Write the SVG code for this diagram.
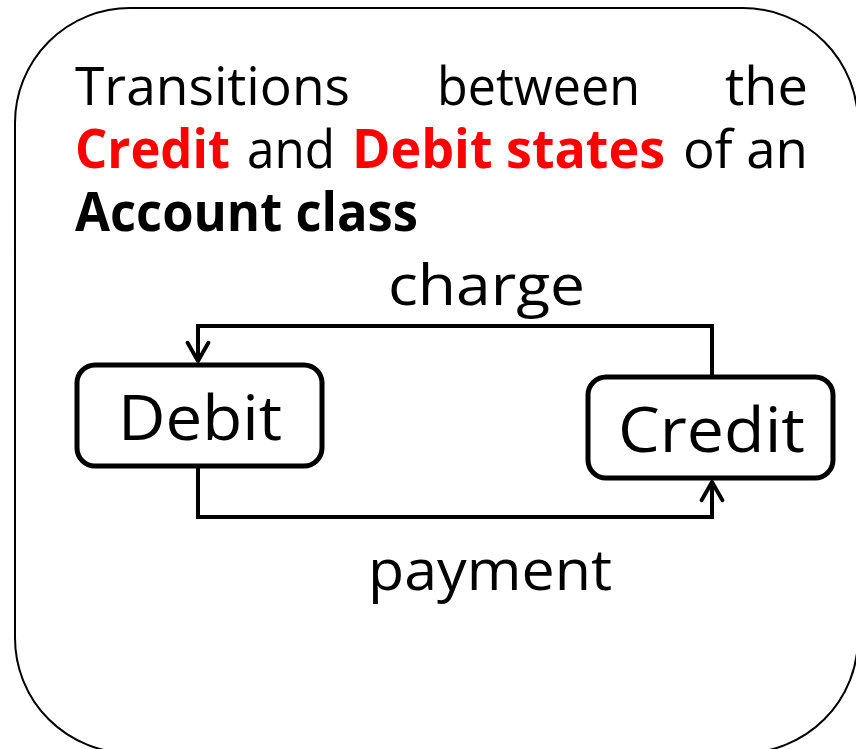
<svg xmlns="http://www.w3.org/2000/svg" width="856" height="749" viewBox="0 0 856 749">
<defs>
<style>
.t{font-family:"Open Sans","DejaVu Sans",sans-serif;fill:#000}
.h{font-size:53px}
.r{fill:#ff0000;font-weight:bold}
.b{font-weight:bold}
.node{fill:#fff;stroke:#000;stroke-width:5}
.lbl{font-size:63px}
.el{font-size:56px}
.conn{fill:none;stroke:#000;stroke-width:4}
</style>
<marker id="arr" viewBox="0 0 20 20" refX="18" refY="10" markerWidth="26" markerHeight="26" markerUnits="userSpaceOnUse" orient="auto">
<path d="M4 2 L18 10 L4 18" fill="none" stroke="#000" stroke-width="3" stroke-linecap="round" stroke-linejoin="round"/>
</marker>
</defs>
<rect x="15" y="8" width="843" height="745" rx="115" ry="115" fill="#fff" stroke="#000" stroke-width="2"/>
<g id="title" class="t h">
<text x="75" y="105" textLength="275" lengthAdjust="spacingAndGlyphs">Transitions</text>
<text x="437" y="105" textLength="203" lengthAdjust="spacingAndGlyphs">between</text>
<text x="725" y="105" textLength="83" lengthAdjust="spacingAndGlyphs">the</text>
<text x="75" y="168" class="r" textLength="155" lengthAdjust="spacingAndGlyphs">Credit</text>
<text x="247" y="168" textLength="88" lengthAdjust="spacingAndGlyphs">and</text>
<text x="352" y="168" class="r" textLength="313" lengthAdjust="spacingAndGlyphs">Debit states</text>
<text x="683" y="168" textLength="125" lengthAdjust="spacingAndGlyphs">of an</text>
<text x="75" y="231" class="b" textLength="343" lengthAdjust="spacingAndGlyphs">Account class</text>
</g>
<g id="connectors">
<path class="conn" d="M712 377 V326 H198 V361" marker-end="url(#arr)"/>
<path class="conn" d="M198 466 V517 H712 V482" marker-end="url(#arr)"/>
<text class="t el" x="388" y="305" textLength="197" lengthAdjust="spacingAndGlyphs">charge</text>
<text class="t el" x="368" y="590" textLength="244" lengthAdjust="spacingAndGlyphs">payment</text>
</g>
<g id="debit">
<rect class="node" x="77" y="365" width="245" height="101" rx="18"/>
<text class="t lbl" x="118" y="440" textLength="164" lengthAdjust="spacingAndGlyphs">Debit</text>
</g>
<g id="credit">
<rect class="node" x="588" y="377" width="245" height="101" rx="18"/>
<text class="t lbl" x="618" y="452" textLength="187" lengthAdjust="spacingAndGlyphs">Credit</text>
</g>
</svg>
